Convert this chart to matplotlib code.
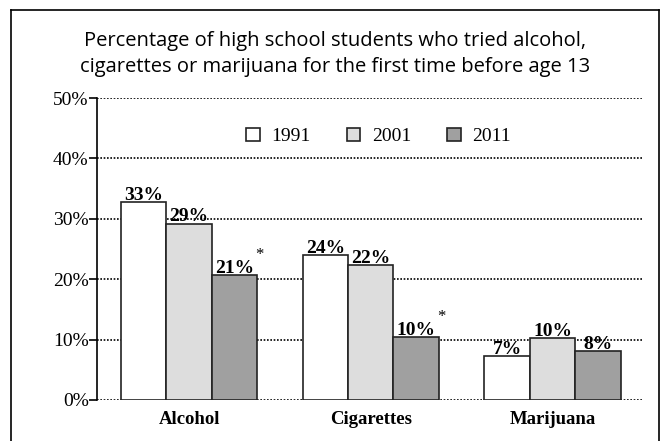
import numpy as np
import matplotlib.pyplot as plt
from matplotlib.lines import Line2D

# Data
categories = ['Alcohol', 'Cigarettes', 'Marijuana']
years = ['1991', '2001', '2011']
values_1991 = [32.8, 24.0, 7.3]
values_2001 = [29.2, 22.3, 10.2]
values_2011 = [20.7, 10.4, 8.1]
labels_1991 = ['33%', '24%', '7%']
labels_2001 = ['29%', '22%', '10%']
labels_2011 = ['21%', '10%', '8%']
starred_2011 = [True, True, False]

colors = ['white', '#dddddd', '#a0a0a0']
serif = ['Liberation Serif', 'DejaVu Serif']

fig = plt.figure(figsize=(6.7, 4.41), dpi=100)
ax = fig.add_axes([97 / 670, 1 - 400 / 441, 545 / 670, 302 / 441])

x = np.arange(len(categories))
w = 0.25
series = [values_1991, values_2001, values_2011]
labels = [labels_1991, labels_2001, labels_2011]
for i, (vals, labs) in enumerate(zip(series, labels)):
    pos = x + (i - 1) * w
    ax.bar(pos, vals, width=w, color=colors[i], edgecolor='#222222',
           linewidth=1.2, label=years[i], zorder=3)
    for j, (p, v, lab) in enumerate(zip(pos, vals, labs)):
        ax.text(p, v - 0.3, lab, ha='center', va='bottom', fontsize=14,
                fontweight='bold', family=serif, zorder=4)
        if i == 2 and starred_2011[j]:
            ax.text(p + w * 0.55, v + 2.0, '*', ha='center', va='bottom',
                    fontsize=12, family=serif, zorder=4)

ax.set_xlim(-0.507, 2.493)
ax.set_ylim(0, 50)
ax.set_yticks(range(0, 51, 10))
ax.set_yticklabels([f'{t}%' for t in range(0, 51, 10)], family=serif,
                   fontsize=14)
ax.set_xticks(x)
ax.set_xticklabels(categories, family=serif, fontsize=13.5, fontweight='bold')
ax.tick_params(axis='x', length=0, pad=8)
ax.tick_params(axis='y', length=6, width=1.2, direction='out', pad=0)
ax.yaxis.grid(True, linestyle=(0, (1, 1)), color='black', linewidth=1.2, zorder=0)
ax.set_axisbelow(True)
for s in ['top', 'right']:
    ax.spines[s].set_visible(False)
ax.spines['left'].set_linewidth(1.2)
ax.spines['bottom'].set_visible(False)

leg = ax.legend(loc='upper center', bbox_to_anchor=(0.517, 0.96), ncol=3,
                frameon=False, prop={'family': serif, 'size': 14},
                handlelength=0.68, handleheight=0.68, columnspacing=1.85,
                handletextpad=0.62)

fig.text(0.5, 1 - 54 / 441, 'Percentage of high school students who tried alcohol,\n'
         'cigarettes or marijuana for the first time before age 13',
         ha='center', va='center', fontsize=14.5, family='Open Sans',
         linespacing=1.35)

# outer frame
fig.add_artist(Line2D([11 / 670, 11 / 670], [0, 1 - 10 / 441], color='black', lw=1.2))
fig.add_artist(Line2D([11 / 670, 659 / 670], [1 - 10 / 441, 1 - 10 / 441], color='black', lw=1.2))
fig.add_artist(Line2D([659 / 670, 659 / 670], [0, 1 - 10 / 441], color='black', lw=1.2))

plt.savefig('out.png', dpi=100)
plt.close()
